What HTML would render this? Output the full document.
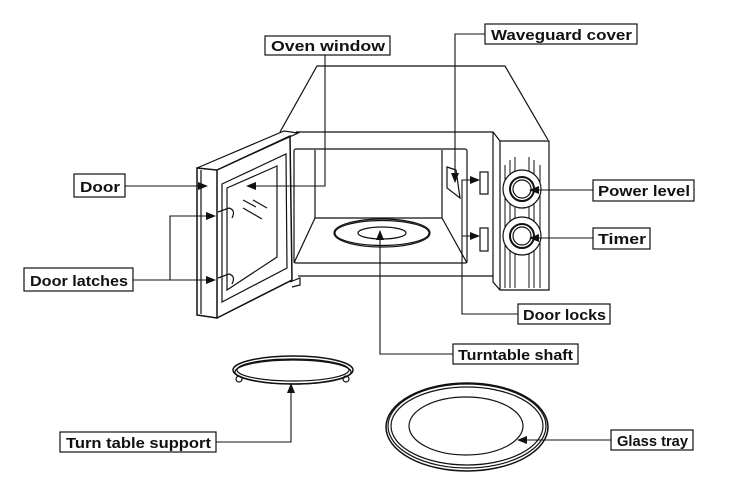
<!DOCTYPE html>
<html><head><style>
body{margin:0;background:#fff;}
svg{display:block}
text{font-family:"Liberation Sans",sans-serif;font-size:15px;font-weight:bold;fill:#111}
</style></head><body>
<svg width="738" height="496" viewBox="0 0 738 496" xmlns="http://www.w3.org/2000/svg">
<defs><marker id="a" markerWidth="10" markerHeight="8" refX="9" refY="4" orient="auto" markerUnits="userSpaceOnUse"><path d="M0,0L10,4L0,8z" fill="#111"/></marker></defs>
<g fill="none" stroke="#111" stroke-width="1.2">
<!-- body -->
<path d="M280,132 L317,66 L505,66 L548,140"/>
<path d="M296,132 L493,132 L500,141 L549,141 L549,290 L500,290 L493,282 L493,132"/>
<line x1="500" y1="141" x2="500" y2="290"/>
<line x1="298" y1="276" x2="493" y2="276"/>
<rect x="294" y="149" width="173" height="114" rx="2"/>
<path d="M315,150 L315,218 L442,218 L442,150"/>
<line x1="315" y1="218" x2="294" y2="263"/><line x1="442" y1="218" x2="467" y2="263"/>
<ellipse cx="382" cy="233" rx="48" ry="14"/><ellipse cx="382" cy="233" rx="47" ry="12.5"/>
<ellipse cx="382" cy="233" rx="24" ry="6"/>
<path d="M447,167 L456,170 L460,198 L447,188z"/>
<rect x="480" y="172" width="8" height="22"/><rect x="480" y="228" width="8" height="23"/>
<g stroke-width="1"><line x1="505" y1="165" x2="505" y2="288"/><line x1="510" y1="160" x2="510" y2="288"/><line x1="515" y1="157" x2="515" y2="288"/><line x1="529" y1="157" x2="529" y2="288"/><line x1="534" y1="160" x2="534" y2="288"/><line x1="540" y1="165" x2="540" y2="288"/></g>
<g fill="#fff"><circle cx="522" cy="189" r="19"/><circle cx="522" cy="236" r="19"/></g>
<circle cx="522" cy="189" r="12" stroke-width="2"/><circle cx="522" cy="189" r="9"/>
<circle cx="522" cy="236" r="12" stroke-width="2"/><circle cx="522" cy="236" r="9"/>
<!-- door -->
<path d="M197,168 L217,170 L217,318 L197,315z" stroke-width="1.5"/>
<path d="M197,168 L284,131 L298,133 L217,170"/>
<path d="M217,170 L290,136 L292,280 L217,318" stroke-width="1.5"/>
<path d="M201,170 L201,314"/>
<path d="M222,184 L286,154 L287,268 L222,302z"/>
<path d="M227,188 L277,166 L277,257 L227,290z"/>
<path d="M243,200 L256,207 M243,208 L262,219 M253,200 L267,208"/>
<path d="M218,212 L229,208 Q236,210 232,218"/><path d="M218,278 L229,274 Q236,276 232,284"/>
<path d="M290,282 L300,278 L300,285 L292,287"/>
<!-- support ring -->
<ellipse cx="293" cy="370" rx="60" ry="14" stroke-width="1.5"/>
<ellipse cx="293" cy="370" rx="56" ry="11"/>
<ellipse cx="293" cy="372" rx="58" ry="12"/>
<circle cx="239" cy="379" r="3"/><circle cx="346" cy="379" r="3"/>
<!-- glass tray -->
<ellipse cx="467" cy="427" rx="81" ry="44" stroke-width="1.5"/>
<ellipse cx="467" cy="426" rx="79" ry="42"/>
<ellipse cx="467" cy="426" rx="76" ry="39"/>
<ellipse cx="466" cy="426" rx="57" ry="29"/>
<!-- label boxes -->
<rect x="265" y="36" width="125" height="19" fill="#fff"/>
<rect x="485" y="24" width="152" height="20"/>
<rect x="74" y="174" width="51" height="23"/>
<rect x="593" y="180" width="101" height="21"/>
<rect x="593" y="228" width="57" height="21"/>
<rect x="24" y="268" width="109" height="23"/>
<rect x="518" y="304" width="92" height="20"/>
<rect x="453" y="344" width="125" height="20"/>
<rect x="60" y="432" width="156" height="20"/>
<rect x="611" y="430" width="82" height="20"/>
<g marker-end="url(#a)" stroke-width="1.1">
<path d="M325,55 L325,186 L247,186"/>
<path d="M485,34 L455,34 L455,182"/>
<path d="M125,186 L207,186"/>
<path d="M133,280 L170,280 L170,216 L215,216"/>
<path d="M170,280 L215,280"/>
<path d="M593,190 L530,190"/>
<path d="M593,238 L530,238"/>
<path d="M518,314 L462,314 L462,180 L479,180"/>
<path d="M462,236 L479,236"/>
<path d="M453,354 L380,354 L380,231"/>
<path d="M216,442 L291,442 L291,384"/>
<path d="M611,440 L518,440"/>
</g>
</g>
<text x="271" y="51" textLength="114" lengthAdjust="spacingAndGlyphs">Oven window</text>
<text x="491" y="40" textLength="141" lengthAdjust="spacingAndGlyphs">Waveguard cover</text>
<text x="80" y="192" textLength="40" lengthAdjust="spacingAndGlyphs">Door</text>
<text x="598" y="196" textLength="92" lengthAdjust="spacingAndGlyphs">Power level</text>
<text x="598" y="244" textLength="48" lengthAdjust="spacingAndGlyphs">Timer</text>
<text x="30" y="286" textLength="98" lengthAdjust="spacingAndGlyphs">Door latches</text>
<text x="523" y="320" textLength="83" lengthAdjust="spacingAndGlyphs">Door locks</text>
<text x="458" y="360" textLength="115" lengthAdjust="spacingAndGlyphs">Turntable shaft</text>
<text x="66" y="448" textLength="145" lengthAdjust="spacingAndGlyphs">Turn table support</text>
<text x="617" y="446" textLength="71" lengthAdjust="spacingAndGlyphs">Glass tray</text>
</svg>
</body></html>
